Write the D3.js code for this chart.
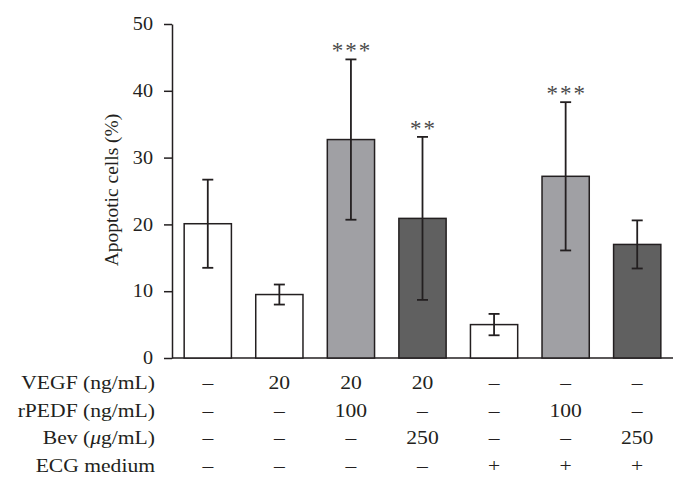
<!DOCTYPE html>
<html><head><meta charset="utf-8">
<script src="https://cdn.jsdelivr.net/npm/d3@7"></script>
<style>body{margin:0;background:#fff}svg{display:block}text{font-family:"Liberation Serif","Times New Roman",serif;fill:#231f20}</style>
</head><body>
<svg id="c" width="688" height="491"></svg>
<script>
const groups = ["G1","G2","G3","G4","G5","G6","G7"];
const means = [20.1, 9.5, 32.7, 20.9, 5.0, 27.2, 17.0];
const sds = [6.6, 1.5, 12.0, 12.2, 1.6, 11.1, 3.6];
const fillKind = ["white","white","light","dark","white","light","dark"];
const stars = ["", "", "***", "**", "", "***", ""];
const yTicks = [0, 10, 20, 30, 40, 50];
const rowLabels = ["VEGF (ng/mL)", "rPEDF (ng/mL)", "Bev (\u03BCg/mL)", "ECG medium"];
const rowVEGF = ["\u2013","20","20","20","\u2013","\u2013","\u2013"];
const rowPEDF = ["\u2013","\u2013","100","\u2013","\u2013","100","\u2013"];
const rowBev = ["\u2013","\u2013","\u2013","250","\u2013","\u2013","250"];
const rowECG = ["\u2013","\u2013","\u2013","\u2013","+","+","+"];
const colors = {white:"#ffffff", light:"#a0a0a4", dark:"#606060"};

const svg = d3.select("#c");
const x = d3.scaleBand().domain(groups).range([172, 673]).paddingInner(0.34).paddingOuter(0.17);
const y = d3.scaleLinear().domain([0, 50]).range([358, 24]);

const TSX = 1.12, TFS = 18;   // tick text
const RSX = 1.2, RFS = 18;    // table text

// y axis
const ya = svg.append("g").attr("transform","translate(172,0)")
  .call(d3.axisLeft(y).tickValues(yTicks).tickSize(8).tickPadding(10).tickSizeOuter(0));
ya.select(".domain").attr("stroke","#231f20").attr("stroke-width",1.5);
ya.selectAll(".tick line").attr("stroke","#231f20").attr("stroke-width",1.5);
ya.selectAll(".tick text").attr("font-size",TFS).attr("font-family","Liberation Serif")
  .attr("fill","#231f20").attr("x", -19/TSX).attr("transform",`scale(${TSX},1)`);

// x baseline
svg.append("line").attr("x1",172).attr("x2",673).attr("y1",y(0)).attr("y2",y(0))
  .attr("stroke","#231f20").attr("stroke-width",1.5);

// bars
svg.selectAll("rect.bar").data(groups).join("rect").attr("class","bar")
  .attr("x", d=>x(d)).attr("width", x.bandwidth())
  .attr("y", (d,i)=>y(means[i])).attr("height",(d,i)=>y(0)-y(means[i]))
  .attr("fill",(d,i)=>colors[fillKind[i]]).attr("stroke","#231f20").attr("stroke-width",1.5);

// error bars
const cap = 11;
groups.forEach((g,i)=>{
  const cx = x(g)+x.bandwidth()/2;
  const e = svg.append("g").attr("stroke","#231f20").attr("stroke-width",1.8);
  e.append("line").attr("x1",cx).attr("x2",cx).attr("y1",y(means[i]+sds[i])).attr("y2",y(means[i]-sds[i]));
  e.append("line").attr("x1",cx-cap/2).attr("x2",cx+cap/2).attr("y1",y(means[i]+sds[i])).attr("y2",y(means[i]+sds[i]));
  e.append("line").attr("x1",cx-cap/2).attr("x2",cx+cap/2).attr("y1",y(means[i]-sds[i])).attr("y2",y(means[i]-sds[i]));
  if (stars[i]) {
    svg.append("text").attr("x",cx+1).attr("y",y(means[i]+sds[i])-1)
      .attr("text-anchor","middle").attr("font-size",23).attr("letter-spacing",2)
      .style("fill","#4a4a4a").text(stars[i]);
  }
});

// y label
svg.append("text").attr("transform","translate(118,190) rotate(-90)")
  .attr("text-anchor","middle").attr("font-size",19.5).text("Apoptotic cells (%)");

// table
const rows = [rowVEGF, rowPEDF, rowBev, rowECG];
const rowY = d3.scalePoint().domain(rowLabels).range([389, 472]);
rowLabels.forEach((lab,r)=>{
  const t = svg.append("text").attr("transform",`translate(155,${rowY(lab)}) scale(${RSX},1)`)
    .attr("text-anchor","end").attr("font-size",RFS);
  if (lab.indexOf("\u03BC")>=0) {
    t.append("tspan").text("Bev (");
    t.append("tspan").attr("font-style","italic").text("\u03BC");
    t.append("tspan").text("g/mL)");
  } else t.text(lab);
  groups.forEach((g,i)=>{
    svg.append("text").attr("transform",`translate(${x(g)+x.bandwidth()/2},${rowY(lab)}) scale(${RSX},1)`)
      .attr("text-anchor","middle").attr("font-size",RFS).text(rows[r][i]);
  });
});
</script>
</body></html>
